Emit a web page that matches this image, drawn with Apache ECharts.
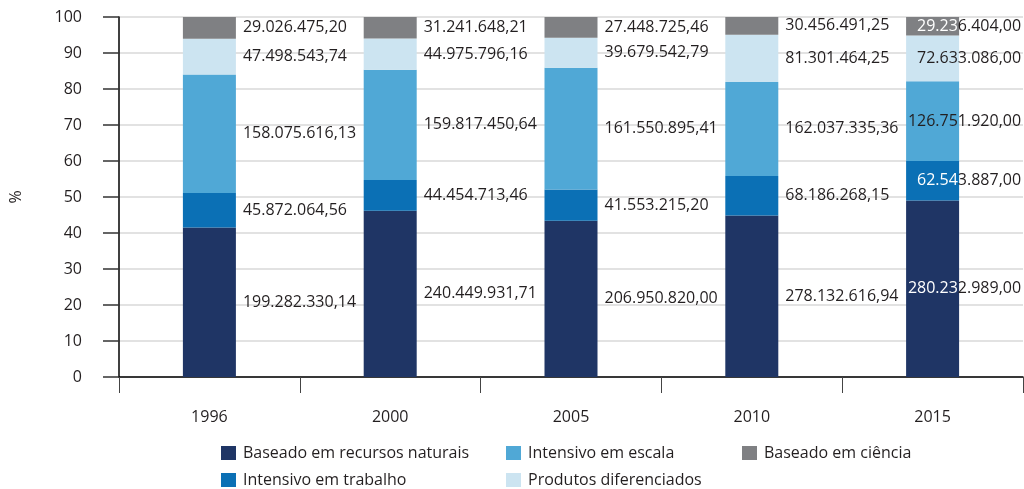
<!DOCTYPE html>
<html>
<head>
<meta charset="utf-8">
<script src="https://cdn.jsdelivr.net/npm/echarts@6/dist/echarts.min.js"></script>
<style>
  html, body { margin: 0; padding: 0; background: #fff; }
  #chart { width: 1024px; height: 489px; }
</style>
</head>
<body>
<div id="chart"></div>
<script>
// valores absolutos por ano (rótulos); a altura das barras é a participação %
const years = ['1996', '2000', '2005', '2010', '2015']
const naturais = [199282330.14, 240449931.71, 206950820.00, 278132616.94, 280232989.00]
const trabalho = [45872064.56, 44454713.46, 41553215.20, 68186268.15, 62543887.00]
const escala = [158075616.13, 159817450.64, 161550895.41, 162037335.36, 126751920.00]
const diferenciados = [47498543.74, 44975796.16, 39679542.79, 81301464.25, 72633086.00]
const ciencia = [29026475.20, 31241648.21, 27448725.46, 30456491.25, 29236404.00]

const textColor = '#231f20'
const font = 'Open Sans'

const totals = years.map((y, i) =>
  naturais[i] + trabalho[i] + escala[i] + diferenciados[i] + ciencia[i])

// 199282330.14 -> 199.282.330,14
function fmt (n) {
  const parts = n.toFixed(2).split('.')
  return parts[0].replace(/\B(?=(\d{3})+(?!\d))/g, '.') + ',' + parts[1]
}

function makeSeries (name, values, color, insideColor) {
  return {
    name: name,
    type: 'bar',
    stack: 'total',
    barWidth: 53,
    itemStyle: { color: color },
    label: {
      show: true,
      position: 'right',
      distance: 7,
      color: textColor,
      fontSize: 16,
      fontFamily: font,
      formatter: p => fmt(values[p.dataIndex])
    },
    data: values.map((v, i) => {
      const item = { value: v / totals[i] * 100 }
      if (i === values.length - 1) {
        // último ano: rótulo encostado na borda direita, parte sobre a barra
        item.label = {
          position: [115, '50%'],
          align: 'right',
          verticalAlign: 'middle',
          formatter: () => {
            const s = fmt(v)
            return '{a|' + s.slice(0, -8) + '}{b|' + s.slice(-8) + '}'
          },
          rich: {
            a: { color: insideColor, fontSize: 16, fontFamily: font },
            b: { color: textColor, fontSize: 16, fontFamily: font }
          }
        }
      }
      return item
    })
  }
}

const legendCommon = {
  orient: 'vertical',
  icon: 'rect',
  itemWidth: 15,
  itemHeight: 14,
  itemGap: 11,
  selectedMode: false,
  padding: 0,
  textStyle: { fontSize: 16, color: textColor, fontFamily: font, padding: [0, 0, 0, 2] }
}

const chart = echarts.init(document.getElementById('chart'))
chart.setOption({
  animation: false,
  grid: { left: 119, right: 1, top: 17, bottom: 112 },
  legend: [
    Object.assign({ left: 221, top: 445, data: ['Baseado em recursos naturais', 'Intensivo em trabalho'] }, legendCommon),
    Object.assign({ left: 506, top: 445, data: ['Intensivo em escala', 'Produtos diferenciados'] }, legendCommon),
    Object.assign({ left: 742, top: 445, data: ['Baseado em ciência'] }, legendCommon)
  ],
  xAxis: {
    type: 'category',
    data: years,
    axisLine: { lineStyle: { color: '#000', width: 1.5 } },
    axisTick: { show: true, length: 16, lineStyle: { color: '#444' } },
    axisLabel: { margin: 32, fontSize: 16, color: textColor, fontFamily: font }
  },
  yAxis: {
    type: 'value',
    min: 0,
    max: 100,
    interval: 10,
    name: '%',
    nameLocation: 'middle',
    nameGap: 95,
    nameTextStyle: { fontSize: 16, color: textColor, fontFamily: font },
    axisLine: { show: true, lineStyle: { color: '#000', width: 1.5 } },
    axisTick: { show: true, length: 16, lineStyle: { color: '#333', width: 1.5 } },
    axisLabel: { margin: 37, fontSize: 16, color: textColor, fontFamily: font },
    splitLine: { lineStyle: { color: '#d9d9d9', width: 1.5 } }
  },
  series: [
    makeSeries('Baseado em recursos naturais', naturais, '#1f3565', '#fff'),
    makeSeries('Intensivo em trabalho', trabalho, '#0b70b5', '#fff'),
    makeSeries('Intensivo em escala', escala, '#50a8d6', textColor),
    makeSeries('Produtos diferenciados', diferenciados, '#cce4f1', textColor),
    makeSeries('Baseado em ciência', ciencia, '#7f8083', '#fff')
  ]
})
</script>
</body>
</html>
